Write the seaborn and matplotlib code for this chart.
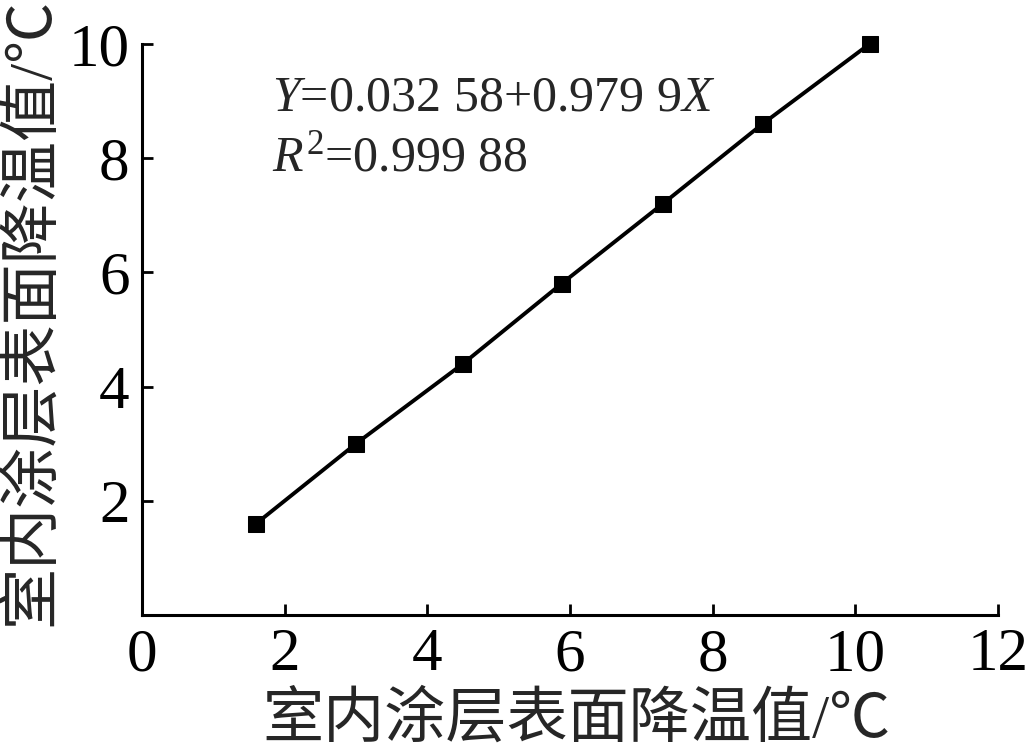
import matplotlib
matplotlib.use("Agg")
import matplotlib.pyplot as plt
import seaborn as sns
import pandas as pd

# indoor coating surface cooling (x) vs. predicted (y), degC
x_vals = [1.6, 3.0, 4.5, 5.88, 7.3, 8.7, 10.2]
y_vals = [1.6, 3.0, 4.4, 5.8, 7.2, 8.6, 10.0]
x_ticks = [0, 2, 4, 6, 8, 10, 12]
y_ticks = [2, 4, 6, 8, 10]
label_txt = "室内涂层表面降温值/℃"
eq_line1 = r"$Y$=0.032 58+0.979 9$X$"
eq_line2 = r"$R^2$=0.999 88"

sns.set_style("ticks")
plt.rcParams['font.family'] = ['Liberation Serif', 'Noto Sans CJK SC', 'DejaVu Sans']
plt.rcParams['mathtext.fontset'] = 'custom'
plt.rcParams['mathtext.rm'] = 'Liberation Serif'
plt.rcParams['mathtext.it'] = 'Liberation Serif:italic'

df = pd.DataFrame({'x': x_vals, 'y': y_vals})

fig = plt.figure(figsize=(10.29, 7.56), dpi=100)
ax = fig.add_axes([0.138, 0.1865, 0.832, 0.7555])
sns.lineplot(data=df, x='x', y='y', ax=ax, color='black', linewidth=2.8,
             marker='s', markersize=11, markeredgecolor='black', clip_on=False)

ax.set_xlim(0, 12)
ax.set_ylim(0, 10)
ax.set_xticks(x_ticks)
ax.set_yticks(y_ticks)
ax.tick_params(direction='in', length=8, width=2, labelsize=44, pad=9, colors='black')
for s in ['top', 'right']:
    ax.spines[s].set_visible(False)
for s in ['left', 'bottom']:
    ax.spines[s].set_linewidth(2.2)
    ax.spines[s].set_color('black')

ax.set_xlabel(label_txt, fontsize=44, labelpad=2)
ax.set_ylabel(label_txt, fontsize=44)
ax.xaxis.set_label_coords(0.507, -0.135)
ax.yaxis.set_label_coords(-0.095, 0.53)

ax.text(0.152, 0.905, eq_line1, transform=ax.transAxes, fontsize=36, va='center', ha='left')
ax.text(0.152, 0.80, eq_line2, transform=ax.transAxes, fontsize=36, va='center', ha='left')

plt.savefig('out.png', dpi=100)
